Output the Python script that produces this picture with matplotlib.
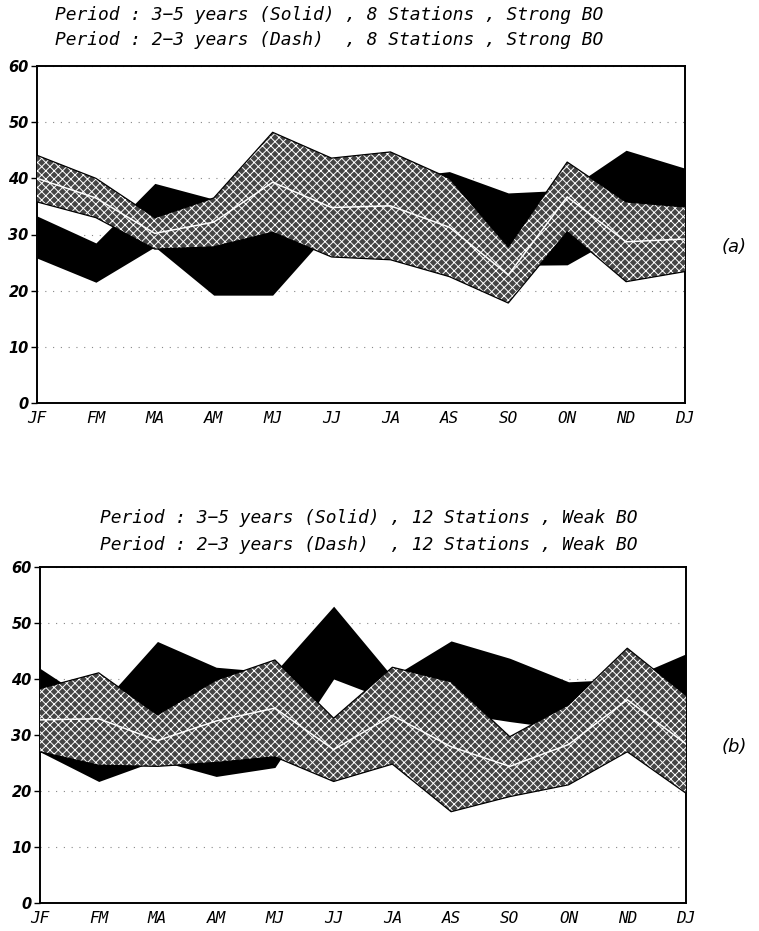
import numpy as np
import matplotlib
matplotlib.use("Agg")
import matplotlib.pyplot as plt

months = ["JF", "FM", "MA", "AM", "MJ", "JJ", "JA", "AS", "SO", "ON", "ND", "DJ"]

# Panel (a): Strong BO, 8 stations
solid_top_a = [33.3, 28.5, 39.1, 36.3, 34.0, 38.0, 40.0, 41.2, 37.4, 37.9, 45.0, 41.8]
solid_bot_a = [25.8, 21.5, 27.8, 19.2, 19.2, 31.0, 31.0, 28.0, 24.5, 24.6, 30.5, 30.0]
dash_top_a = [44.1, 40.0, 33.0, 36.5, 48.2, 43.6, 44.7, 40.0, 27.8, 42.9, 35.8, 34.9]
dash_bot_a = [35.8, 33.0, 27.4, 27.8, 30.4, 26.0, 25.5, 22.5, 17.8, 30.5, 21.6, 23.4]
dash_mid_a = [40.0, 36.5, 30.2, 32.2, 39.3, 34.8, 35.1, 31.3, 22.8, 36.7, 28.7, 29.2]

# Panel (b): Weak BO, 12 stations
solid_top_b = [41.9, 35.0, 46.7, 42.1, 41.2, 53.0, 40.4, 46.8, 43.7, 39.5, 40.0, 44.5]
solid_bot_b = [27.0, 21.7, 25.5, 22.6, 24.2, 40.0, 36.0, 34.0, 32.4, 31.0, 30.0, 32.0]
dash_top_b = [38.3, 41.1, 33.6, 39.8, 43.4, 33.0, 42.1, 39.5, 29.7, 35.4, 45.5, 37.1]
dash_bot_b = [27.0, 24.6, 24.4, 25.1, 26.1, 21.7, 24.8, 16.3, 19.0, 21.1, 27.0, 19.6]
dash_mid_b = [32.7, 32.9, 29.0, 32.5, 34.8, 27.4, 33.5, 27.9, 24.4, 28.3, 36.3, 28.4]

titles_a = ["Period : 3\u22125 years (Solid) , 8 Stations , Strong BO",
            "Period : 2\u22123 years (Dash)  , 8 Stations , Strong BO"]
titles_b = ["Period : 3\u22125 years (Solid) , 12 Stations , Weak BO",
            "Period : 2\u22123 years (Dash)  , 12 Stations , Weak BO"]
yticks = [0, 10, 20, 30, 40, 50, 60]

plt.rcParams['hatch.linewidth'] = 0.7

W, H = 759, 931
fig = plt.figure(figsize=(W / 100, H / 100), dpi=100)
fig.patch.set_facecolor("white")


def draw(ax, st, sb, dt, db, dm):
    x = np.arange(len(months))
    ax.fill_between(x, sb, st, color="black", lw=0, zorder=2)
    ax.fill_between(x, db, dt, facecolor="#444444", edgecolor="white",
                    hatch="xxxx", lw=0, zorder=3)
    ax.plot(x, dt, color="black", lw=0.9, zorder=4)
    ax.plot(x, db, color="black", lw=0.9, zorder=4)
    ax.plot(x, dm, color="white", lw=1.1, zorder=4)
    ax.set_xlim(0, len(months) - 1)
    ax.set_ylim(0, 60)
    ax.set_yticks(yticks)
    ax.set_yticklabels([str(v) for v in yticks], fontstyle="italic",
                       fontweight="bold", fontsize=10.5)
    ax.set_xticks(x)
    ax.set_xticklabels(months, fontstyle="italic", fontsize=11.5,
                       family="DejaVu Sans Mono")
    ax.tick_params(axis="x", length=0, pad=6)
    ax.tick_params(axis="y", length=4, width=1, direction="out", pad=2)
    ax.grid(axis="y", linestyle=(0, (1, 6)), color="#888888", lw=0.8, zorder=1)
    ax.set_axisbelow(True)
    for s in ax.spines.values():
        s.set_linewidth(1.4)
        s.set_color("black")


ax_a = fig.add_axes([37 / W, 1 - 403 / H, (685 - 37) / W, (403 - 66) / H])
ax_b = fig.add_axes([40 / W, 1 - 903 / H, (686 - 40) / W, (903 - 567) / H])
draw(ax_a, solid_top_a, solid_bot_a, dash_top_a, dash_bot_a, dash_mid_a)
draw(ax_b, solid_top_b, solid_bot_b, dash_top_b, dash_bot_b, dash_mid_b)

tkw = dict(fontstyle="italic", fontsize=12.9, ha="left", va="center",
           family="DejaVu Sans Mono")
fig.text(55 / W, 1 - 15 / H, titles_a[0], **tkw)
fig.text(55 / W, 1 - 40 / H, titles_a[1], **tkw)
fig.text(100 / W, 1 - 518 / H, titles_b[0], **tkw)
fig.text(100 / W, 1 - 545 / H, titles_b[1], **tkw)

fig.text(722 / W, 1 - 247 / H, "(a)", fontstyle="italic", fontsize=13,
         ha="left", va="center")
fig.text(722 / W, 1 - 747 / H, "(b)", fontstyle="italic", fontsize=13,
         ha="left", va="center")

fig.savefig("out.png", dpi=100)
